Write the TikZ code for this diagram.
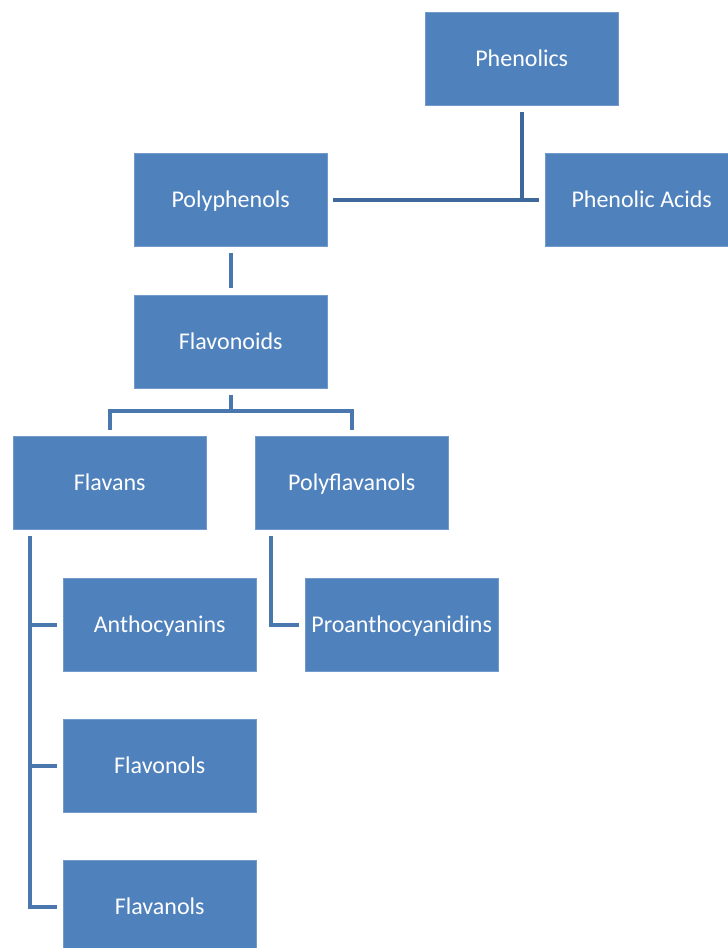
\documentclass[tikz,border=0pt]{standalone}
\usepackage{fontspec}
\setmainfont{Carlito}
\usetikzlibrary{calc}
\definecolor{boxblue}{HTML}{4F81BD}
\definecolor{linkblue}{HTML}{4A78AE}
\definecolor{topline}{HTML}{3E6899}
\tikzset{
  box/.style={draw=boxblue!80!white, line width=0.4pt, fill=boxblue, minimum width=193pt, minimum height=93pt, inner sep=0pt, text height=16pt, text depth=0pt, text=white, font=\fontsize{24pt}{28pt}\selectfont, anchor=north west},
  link/.style={draw=linkblue, line width=4pt},
  toplink/.style={draw=topline, line width=4pt}
}
\begin{document}
\begin{tikzpicture}[x=1pt,y=-1pt]
\clip (0,0) rectangle (728,948);
\useasboundingbox (0,0) rectangle (728,948);
\node[box] (phen) at (425,12) {Phenolics};
\node[box] (poly) at (134,153) {Polyphenols};
\node[box] (acid) at (545,153) {Phenolic Acids};
\node[box] (flavo) at (134,295) {Flavonoids};
\node[box] (flavans) at (13,436) {Flavans};
\node[box] (polyfl) at (255,436) {Polyflavanols};
\node[box] (antho) at (63,578) {Anthocyanins};
\node[box] (proan) at (305,578) {Proanthocyanidins};
\node[box] (flavonols) at (63,719) {Flavonols};
\node[box] (flavanols) at (63,860) {Flavanols};
% Phenolics -> Polyphenols, Phenolic Acids
\coordinate (j1) at ($(phen.south)+(0,95)$);
\draw[toplink] ($(phen.south)+(0,7)$) -- (j1);
\draw[toplink] ($(poly.east)+(6,0)$) -- ($(acid.west)+(-6,0)$);
% Polyphenols -> Flavonoids
\draw[link] ($(poly.south)+(0,7)$) -- ($(flavo.north)+(0,-7)$);
% Flavonoids -> Flavans, Polyflavanols
\coordinate (j2) at ($(flavo.south)+(0,23)$);
\draw[link] ($(flavo.south)+(0,7)$) -- (j2);
\draw[link] ($(flavans.north)+(0,-6)$) |- (j2) -| ($(polyfl.north)+(0,-6)$);
% Flavans -> children
\coordinate (fl) at ($(flavans.south west)+(17,7)$);
\draw[link] (fl) |- ($(flavanols.west)+(-6,0)$);
\draw[link] (fl |- antho.west) -- ($(antho.west)+(-6,0)$);
\draw[link] (fl |- flavonols.west) -- ($(flavonols.west)+(-6,0)$);
% Polyflavanols -> Proanthocyanidins
\draw[link] ($(polyfl.south west)+(16,7)$) |- ($(proan.west)+(-6,0)$);
\end{tikzpicture}
\end{document}
